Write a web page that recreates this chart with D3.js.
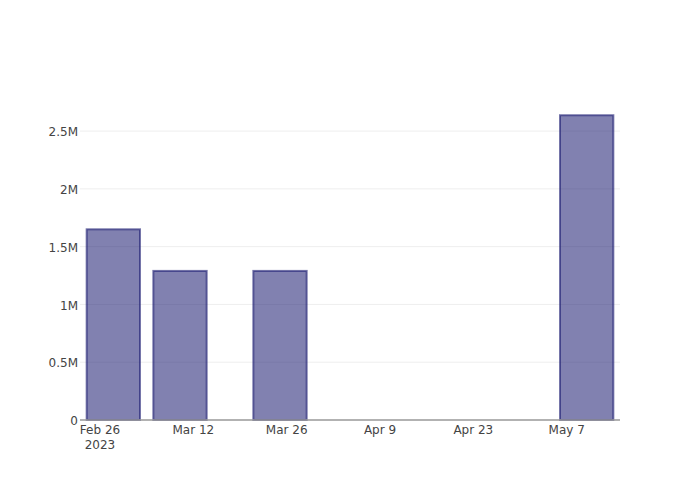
<!DOCTYPE html>
<html>
<head>
<meta charset="utf-8">
<script src="https://cdn.jsdelivr.net/npm/d3@7"></script>
<style>
  body { margin: 0; background: #fff; }
  text { font-family: "DejaVu Sans", sans-serif; }
</style>
</head>
<body>
<svg id="chart" width="700" height="500"></svg>
<script>
const dates = ["2023-02-28", "2023-03-10", "2023-03-25", "2023-05-10"];
const values = [1650000, 1290000, 1290000, 2637000];
const yTicks = [0, 500000, 1000000, 1500000, 2000000, 2500000];
const yTickLabels = ["0", "0.5M", "1M", "1.5M", "2M", "2.5M"];
const xTicks = ["2023-02-26", "2023-03-12", "2023-03-26", "2023-04-09", "2023-04-23", "2023-05-07"];
const xTickLabels = ["Feb 26", "Mar 12", "Mar 26", "Apr 9", "Apr 23", "May 7"];
const xRange = ["2023-02-23", "2023-05-15"];

const parse = d3.utcParse("%Y-%m-%d");
const svg = d3.select("#chart");
const margin = {l: 80, r: 80, t: 100, b: 80};
const W = 700, H = 500;

const x = d3.scaleUtc().domain(xRange.map(parse)).range([margin.l, W - margin.r]);
const y = d3.scaleLinear().domain([0, d3.max(values) * 1.05]).range([H - margin.b, margin.t]);

const barDays = 8;
const dayMs = 86400000;

// gridlines
svg.append("g").selectAll("line").data(yTicks.slice(1)).join("line")
  .attr("x1", margin.l).attr("x2", W - margin.r)
  .attr("y1", d => y(d)).attr("y2", d => y(d))
  .attr("stroke", "#eeeeee").attr("stroke-width", 1);

// bars
svg.append("g").selectAll("rect").data(dates.map((d, i) => ({d: parse(d), v: values[i]}))).join("rect")
  .attr("x", d => x(new Date(d.d.getTime() - barDays / 2 * dayMs)))
  .attr("width", d => x(new Date(d.d.getTime() + barDays / 2 * dayMs)) - x(new Date(d.d.getTime() - barDays / 2 * dayMs)))
  .attr("y", d => y(d.v))
  .attr("height", d => y(0) - y(d.v))
  .attr("fill", "midnightblue").attr("fill-opacity", 0.55)
  .attr("stroke", "midnightblue").attr("stroke-opacity", 0.6).attr("stroke-width", 2);

// x axis line
svg.append("line")
  .attr("x1", margin.l).attr("x2", W - margin.r)
  .attr("y1", y(0)).attr("y2", y(0))
  .attr("stroke", "#999999").attr("stroke-width", 1.5);

// y labels
svg.append("g").selectAll("text").data(yTicks).join("text")
  .attr("x", margin.l - 2).attr("y", d => y(d) + 1).attr("dy", "0.35em")
  .attr("text-anchor", "end").attr("font-size", 12).attr("fill", "#444")
  .text((d, i) => yTickLabels[i]);

// x labels
svg.append("g").selectAll("text").data(xTicks).join("text")
  .attr("x", d => x(parse(d))).attr("y", y(0) + 14)
  .attr("text-anchor", "middle").attr("font-size", 12).attr("fill", "#444")
  .text((d, i) => xTickLabels[i]);
svg.append("text")
  .attr("x", x(parse(xTicks[0]))).attr("y", y(0) + 28.5)
  .attr("text-anchor", "middle").attr("font-size", 12).attr("fill", "#444")
  .text("2023");
</script>
</body>
</html>
